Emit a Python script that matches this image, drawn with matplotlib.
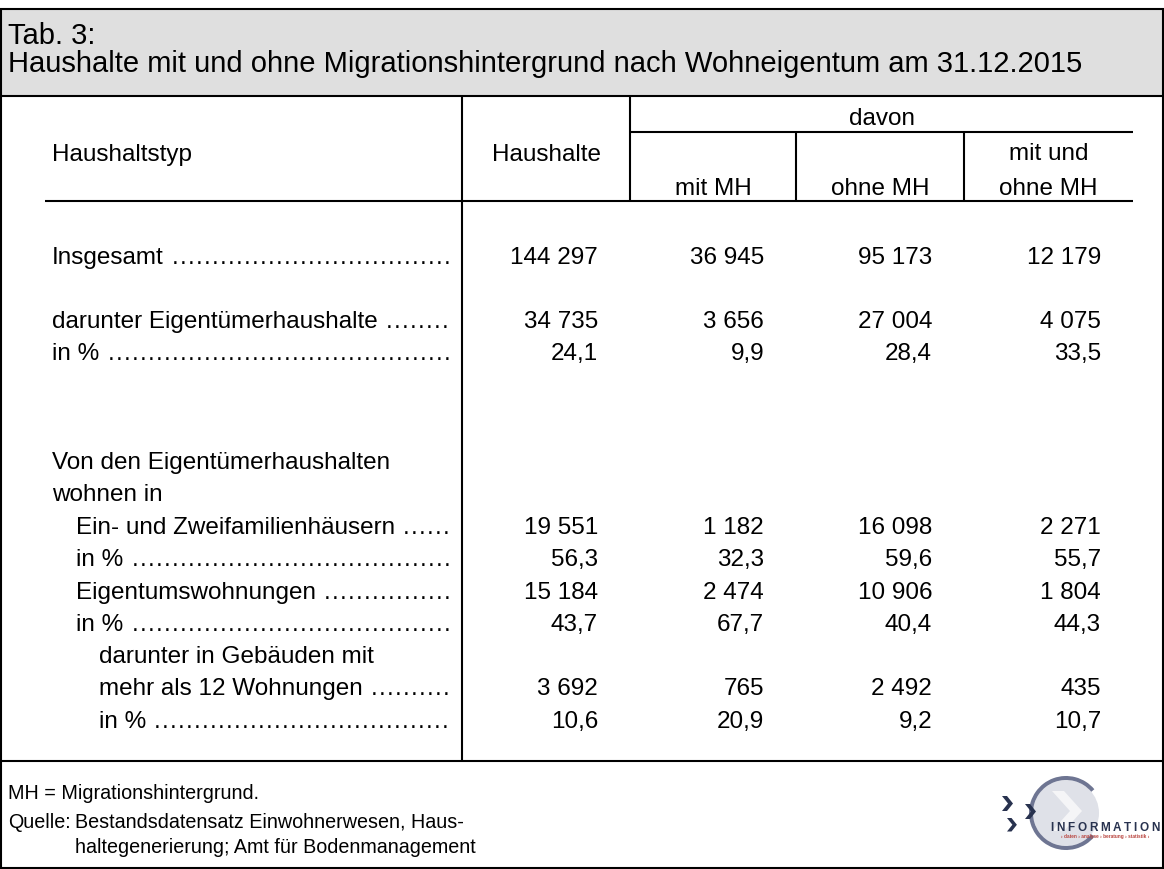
import matplotlib
matplotlib.use("Agg")
import matplotlib.pyplot as plt
from matplotlib.patches import Rectangle, Circle, Wedge, Polygon

plt.rcParams["font.family"] = ["Liberation Sans", "DejaVu Sans"]

# --- table content ---------------------------------------------------------
title_lines = [
    "Tab. 3:",
    "Haushalte mit und ohne Migrationshintergrund nach Wohneigentum am 31.12.2015",
]
col_headers = [["Haushalte"], ["mit MH"], ["ohne MH"], ["mit und", "ohne MH"]]

row_labels = [
    "Insgesamt",
    "darunter Eigentümerhaushalte",
    "in %",
    "Von den Eigentümerhaushalten",
    "wohnen in",
    "Ein- und Zweifamilienhäusern",
    "in %",
    "Eigentumswohnungen",
    "in %",
    "darunter in Gebäuden mit",
    "mehr als 12 Wohnungen",
    "in %",
]
row_indent = [0, 0, 0, 0, 0, 1, 1, 1, 1, 2, 2, 2]
row_dots = [True, True, True, False, False, True, True, True, True, False, True, True]

haushalte = [144297, 34735, 24.1, None, None, 19551, 56.3, 15184, 43.7, None, 3692, 10.6]
mit_mh = [36945, 3656, 9.9, None, None, 1182, 32.3, 2474, 67.7, None, 765, 20.9]
ohne_mh = [95173, 27004, 28.4, None, None, 16098, 59.6, 10906, 40.4, None, 2492, 9.2]
mit_und_ohne_mh = [12179, 4075, 33.5, None, None, 2271, 55.7, 1804, 44.3, None, 435, 10.7]

footnote = "MH = Migrationshintergrund."
source = ["Quelle:", "Bestandsdatensatz Einwohnerwesen, Haus-",
          "haltegenerierung; Amt für Bodenmanagement"]


def fmt(v, pct):
    if v is None:
        return ""
    if pct:
        return f"{v:.1f}".replace(".", ",")
    return f"{v:,}".replace(",", " ")


# --- layout (pixel coordinates) -------------------------------------------
W, H = 1164, 870
fig = plt.figure(figsize=(W / 100, H / 100), dpi=100)
ax = fig.add_axes([0, 0, 1, 1])
ax.set_xlim(0, W)
ax.set_ylim(H, 0)
ax.axis("off")

lw = 1.5
line_kw = dict(color="black", lw=lw, solid_capstyle="butt")
fs_body = 17.5
fs_title = 21
fs_foot = 14.2

# header box with two-line title (last line's baseline at y=72)
ax.add_patch(Rectangle((1, 10), W - 2, 87, facecolor="#dfdfdf", edgecolor="none"))
ax.text(8, 72, "\n".join(title_lines), fontsize=fs_title, va="baseline",
        linespacing=1.0)

# outer frame and separators
ax.add_patch(Rectangle((1, 10), W - 2, H - 11, facecolor="none", edgecolor="black", lw=lw))
ax.plot([1, W - 1], [97, 97], **line_kw)
ax.plot([1, W - 1], [762, 762], **line_kw)

col_edges = [462, 630, 796, 964, 1133]
ax.plot([col_edges[0]] * 2, [97, 762], **line_kw)
ax.plot([col_edges[1]] * 2, [97, 202], **line_kw)
ax.plot([col_edges[1], col_edges[-1]], [133, 133], **line_kw)
ax.plot([col_edges[2]] * 2, [133, 202], **line_kw)
ax.plot([col_edges[3]] * 2, [133, 202], **line_kw)
ax.plot([45, col_edges[-1]], [202, 202], **line_kw)

# column headers
ax.text(52, 161, "Haushaltstyp", fontsize=fs_body, va="baseline")
ax.text((col_edges[1] + col_edges[-1]) / 2, 125, "davon", fontsize=fs_body,
        ha="center", va="baseline")
centers = [(col_edges[i] + col_edges[i + 1]) / 2 for i in range(4)]
ax.text(centers[0], 161, col_headers[0][0], fontsize=fs_body, ha="center", va="baseline")
for c, lines in zip(centers[1:], col_headers[1:]):
    for k, line in enumerate(reversed(lines)):
        ax.text(c, 195 - 35 * k, line, fontsize=fs_body, ha="center", va="baseline")

# body rows
row_y = [264, 328, 360, 469, 501, 534, 566, 599, 631, 663, 695, 728]
indent_x = [52, 76, 99]
dots_end = 452
dot_pitch = 8.0
fig.canvas.draw()
renderer = fig.canvas.get_renderer()

columns = [haushalte, mit_mh, ohne_mh, mit_und_ohne_mh]
for i, label in enumerate(row_labels):
    y = row_y[i]
    x = indent_x[row_indent[i]]
    t = ax.text(x, y, label, fontsize=fs_body, va="baseline")
    if row_dots[i]:
        w = t.get_window_extent(renderer).width
        xd = x + w + 8
        while xd + 4 <= dots_end:
            ax.text(xd, y, ".", fontsize=fs_body, va="baseline")
            xd += dot_pitch
    pct = label == "in %"
    for j, col in enumerate(columns):
        ax.text(col_edges[j + 1] - 32, y, fmt(col[i], pct), fontsize=fs_body,
                ha="right", va="baseline")

# footer
ax.text(8, 799, footnote, fontsize=fs_foot, va="baseline")
ax.text(8, 828, source[0], fontsize=fs_foot, va="baseline")
ax.text(75, 828, source[1], fontsize=fs_foot, va="baseline")
ax.text(75, 853, source[2], fontsize=fs_foot, va="baseline")

# logo
navy = "#28324f"
cx, cy = 1066, 814
ax.add_patch(Circle((cx, cy), 33, facecolor="#dfe1e8", edgecolor="none"))
ax.add_patch(Polygon([(1052, 792), (1064, 792), (1082, 812), (1064, 832),
                      (1052, 832), (1070, 812)], closed=True,
                     facecolor="#f5f5f7", edgecolor="none"))
ax.add_patch(Wedge((cx, cy), 37, 40, 320, width=4, facecolor="#6e7592",
                   edgecolor="none"))


def chevron(x0, y0, s=1.0):
    pts = [(x0, y0), (x0 + 5 * s, y0), (x0 + 11 * s, y0 + 7.5 * s),
           (x0 + 5 * s, y0 + 15 * s), (x0, y0 + 15 * s), (x0 + 6 * s, y0 + 7.5 * s)]
    ax.add_patch(Polygon(pts, closed=True, facecolor=navy, edgecolor="none"))


chevron(1002, 797)
chevron(1025, 805)
chevron(1007, 819, 0.9)

word = "INFORMATION"
letters = [ax.text(0, 831, ch, fontsize=8.5, fontweight="bold", color=navy,
                   va="baseline") for ch in word]
widths = [t.get_window_extent(renderer).width for t in letters]
gap = (1160 - 1050 - sum(widths)) / (len(word) - 1)
xl = 1050
for t, w in zip(letters, widths):
    t.set_x(xl)
    xl += w + gap
ax.text(1105, 838.5, "› daten › analyse › beratung › statistik ›", fontsize=3.4,
        color="#b8423c", va="baseline", ha="center", fontweight="bold")

fig.savefig("out.png", dpi=100)
